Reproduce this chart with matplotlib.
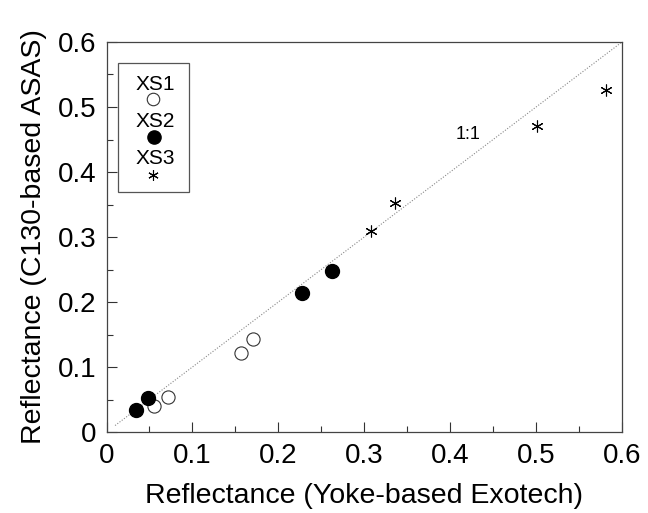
import numpy as np
import matplotlib
matplotlib.use("Agg")
from matplotlib import pyplot as plt
from matplotlib.patches import Rectangle

plt.rcParams['font.family'] = ['Liberation Sans', 'DejaVu Sans']

# reflectance pairs (x: Yoke-based Exotech, y: C130-based ASAS)
xs1_x = [0.055, 0.071, 0.156, 0.170]
xs1_y = [0.040, 0.054, 0.122, 0.143]
xs2_x = [0.034, 0.048, 0.227, 0.263]
xs2_y = [0.034, 0.052, 0.214, 0.247]
xs3_x = [0.308, 0.336, 0.501, 0.581]
xs3_y = [0.309, 0.353, 0.471, 0.526]
one_to_one = [0.01, 0.6]
ticks = [0, 0.1, 0.2, 0.3, 0.4, 0.5, 0.6]
tick_labels = ['0', '0.1', '0.2', '0.3', '0.4', '0.5', '0.6']

fig = plt.figure(figsize=(6.48, 5.13), dpi=100)
ax = fig.add_axes([106.5 / 648, 81 / 513, 515.5 / 648, 390 / 513])

ax.plot(one_to_one, one_to_one, ls=(0, (1, 1.5)), color='#888888', lw=0.8)
ax.text(0.421, 0.457, '1:1', fontsize=13, ha='center', va='center')

ax.plot(xs1_x, xs1_y, 'o', ms=9.5, mfc='white', mec='#333333', mew=0.8, ls='none')
ax.plot(xs2_x, xs2_y, 'o', ms=10, mfc='black', mec='black', ls='none')
ax.plot(xs3_x, xs3_y, marker=(6, 2, 0), ms=8.5, color='black', mew=0.8, ls='none')

# hand-drawn legend: label above marker
ax.add_patch(Rectangle((0.023, 0.616), 0.137, 0.329, transform=ax.transAxes,
                       fill=False, ec='#555555', lw=0.9))
labels = ['XS1', 'XS2', 'XS3']
label_y = [0.890, 0.796, 0.702]
for lab, ly in zip(labels, label_y):
    ax.text(0.094, ly, lab, transform=ax.transAxes, fontsize=15, ha='center', va='center')
ax.plot(0.091, 0.853, 'o', transform=ax.transAxes, ms=9, mfc='white', mec='#333333', mew=0.8)
ax.plot(0.092, 0.756, 'o', transform=ax.transAxes, ms=9.5, mfc='black', mec='black')
ax.plot(0.091, 0.659, marker=(6, 2, 0), transform=ax.transAxes, ms=7.5, color='black', mew=0.8)

ax.set_xlim(0, 0.6)
ax.set_ylim(0, 0.6)
ax.set_xticks(ticks)
ax.set_xticklabels(tick_labels)
ax.set_yticks(ticks)
ax.set_yticklabels(tick_labels)
ax.set_xticks(np.arange(0.05, 0.6, 0.1), minor=True)
ax.set_yticks(np.arange(0.05, 0.6, 0.1), minor=True)
ax.tick_params(which='both', direction='in', labelsize=20, width=0.8, color='#333333')
ax.tick_params(which='major', length=7)
ax.tick_params(which='minor', length=4)
ax.tick_params(axis='x', pad=8)
ax.tick_params(axis='y', pad=7)
for s in ax.spines.values():
    s.set_linewidth(0.9)
    s.set_color('#444444')

ax.set_xlabel('Reflectance (Yoke-based Exotech)', fontsize=20.5, labelpad=10)
ax.set_ylabel('Reflectance (C130-based ASAS)', fontsize=20.5, labelpad=8)

fig.savefig('out.png', dpi=100)
